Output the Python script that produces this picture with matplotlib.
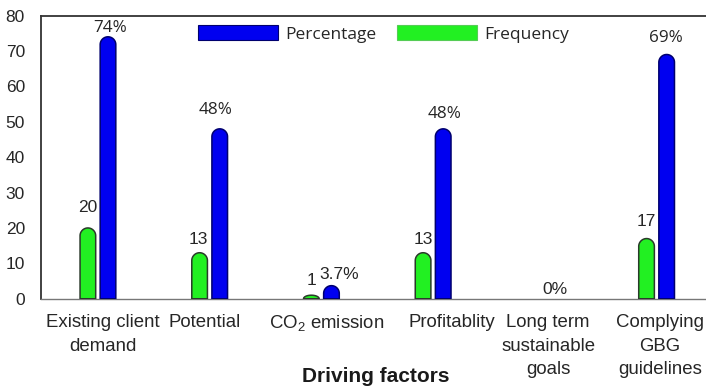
import numpy as np
import matplotlib
matplotlib.use("Agg")
import matplotlib.pyplot as plt
from matplotlib.patches import Polygon, Patch

plt.rcParams['font.family'] = ['Liberation Sans', 'DejaVu Sans']
plt.rcParams['mathtext.fontset'] = 'custom'
plt.rcParams['mathtext.rm'] = 'Liberation Sans'

## data

categories = ["Existing client\ndemand", "Potential", "CO$_\\mathregular{2}$ emission",
              "Profitablity", "Long term\nsustainable\ngoals", "Complying\nGBG\nguidelines"]
frequency = [20, 13, 1, 13, 0, 17]
percentage = [74, 48, 3.7, 48, 0, 69]
freq_labels = ["20", "13", "1", "13", "", "17"]
pct_labels = ["74%", "48%", "3.7%", "48%", "0%", "69%"]

## styling / placement

green = "#22f022"
green_edge = "#2a3a2a"
blue = "#0000f0"
blue_edge = "#00006e"
txt = "#262626"
bar_w = 0.14
shift = 0.09
# label offsets in pixels (dx, dy above bar top)
freq_off = [(0, 13), (-1, 6), (0, 7), (0, 6), (0, 0), (0, 10)]
pct_off = [(2, 1), (-4, 11), (8, 4), (1, 7), (0, 2), (-1, 8)]
pct_fonts = ["Open Sans", "Open Sans", "Liberation Sans", "Open Sans", "Liberation Sans", "Open Sans"]
tick_shift = [0.045, -0.045, 0.045, 0.17, 0.03, 0.03]

fig = plt.figure(figsize=(7.06, 3.89), dpi=100)
ax = fig.add_axes([0.058, 0.232, 0.948, 0.728])
ax.set_xlim(-0.51, 5.48)
ax.set_ylim(0, 80)

x = np.arange(len(categories))


def rounded_bar(ax, xc, h, w, fc, ec):
    if h <= 0:
        return
    rx = w / 2
    p0 = ax.transData.transform((0, 0))
    p1 = ax.transData.transform((1, 1))
    ry = rx * (p1[0] - p0[0]) / (p1[1] - p0[1])
    ry = min(ry, h)
    t = np.linspace(np.pi, 0, 40)
    pts = [(xc - rx, 0), (xc - rx, h - ry)]
    pts += list(zip(xc + rx * np.cos(t), h - ry + ry * np.sin(t)))
    pts += [(xc + rx, h - ry), (xc + rx, 0)]
    ax.add_patch(Polygon(pts, closed=True, facecolor=fc, edgecolor=ec, lw=1.1,
                         joinstyle='round', zorder=3))


for i in range(len(categories)):
    rounded_bar(ax, x[i] - shift, frequency[i], bar_w, green, green_edge)
    rounded_bar(ax, x[i] + shift, percentage[i], bar_w, blue, blue_edge)
    if freq_labels[i]:
        ax.annotate(freq_labels[i], (x[i] - shift, frequency[i]), xytext=freq_off[i],
                    textcoords='offset pixels', ha='center', va='bottom',
                    fontsize=12.5, color=txt)
    ax.annotate(pct_labels[i], (x[i] + shift, percentage[i]), xytext=pct_off[i],
                textcoords='offset pixels', ha='center', va='bottom',
                fontsize=12.5 if pct_fonts[i] == "Liberation Sans" else 12.3,
                family=pct_fonts[i], color=txt)

ax.set_xticks(x + np.array(tick_shift))
ax.set_xticklabels(categories, fontsize=13.4, color=txt)
for lab in ax.get_xticklabels():
    lab.set_linespacing(1.5)
ax.set_yticks(np.arange(0, 81, 10))
ax.tick_params(axis='both', length=0, labelcolor=txt)
ax.tick_params(axis='y', pad=11.5, labelsize=12.5)
ax.tick_params(axis='x', pad=11)

ax.set_xlabel("Driving factors", fontsize=15, fontweight='bold', color="#1a1a1a")
ax.xaxis.label.set_va('center')
ax.xaxis.set_label_coords(0.5, -0.273)

ax.spines['right'].set_visible(False)
ax.spines['left'].set_color("#333333")
ax.spines['left'].set_linewidth(1.3)
ax.spines['top'].set_color("#333333")
ax.spines['top'].set_linewidth(1.3)
ax.spines['bottom'].set_color("#777777")
ax.spines['bottom'].set_linewidth(1.0)

handles = [Patch(facecolor=blue, edgecolor=blue_edge, lw=0.8, label="Percentage"),
           Patch(facecolor=green, edgecolor="#55cc55", lw=0.8, label="Frequency")]
ax.legend(handles=handles, ncol=2, loc='center left', bbox_to_anchor=(0.235, 0.935),
          frameon=False, borderpad=0, borderaxespad=0, handlelength=4.6,
          handleheight=0.95, handletextpad=0.4, columnspacing=1.2,
          prop={'family': 'Open Sans', 'size': 12.5}, labelcolor=txt)

fig.savefig("out.png", dpi=100, facecolor="white")
